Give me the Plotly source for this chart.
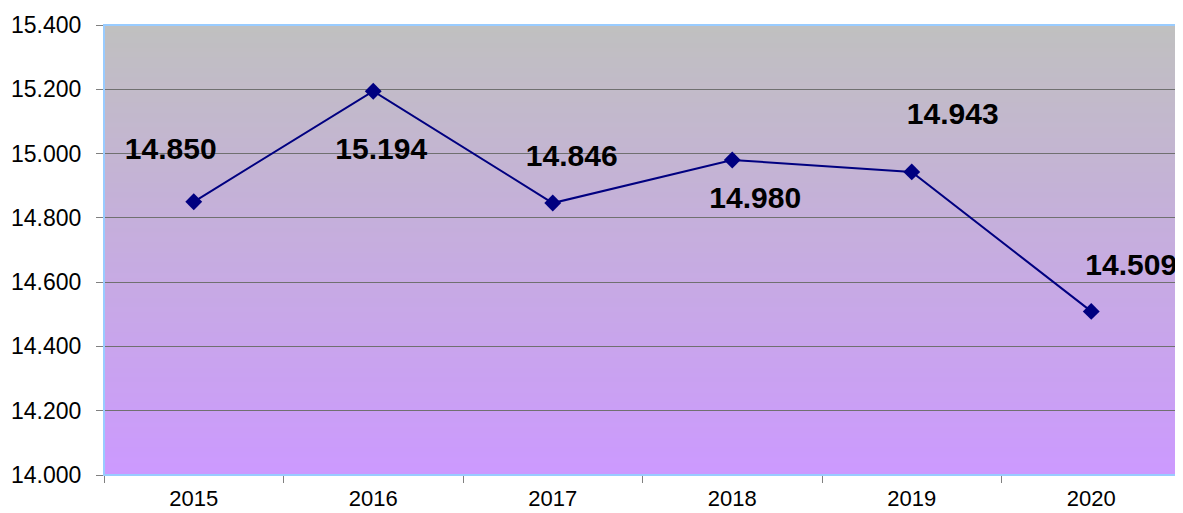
import plotly.graph_objects as go

years = ["2015", "2016", "2017", "2018", "2019", "2020"]
values = [14.850, 15.194, 14.846, 14.980, 14.943, 14.509]
value_labels = ["14.850", "15.194", "14.846", "14.980", "14.943", "14.509"]
# label offsets from each point, in pixels (right, up)
label_shifts = [(-23, 50), (8, -60), (19, 45), (23, -40), (41, 55), (40, 44)]
y_ticks = [14.0, 14.2, 14.4, 14.6, 14.8, 15.0, 15.2, 15.4]

W, H = 1175, 505
ML, MR, MT, MB = 96, 2, 17, 38
YMIN, YMAX = 14.0, 15.4
px_per_cat = (W - ML - MR) / len(years)
px_per_unit = (H - MT - MB) / (YMAX - YMIN)

fig = go.Figure()
fig.add_trace(go.Scatter(
    x=years, y=values, mode="lines+markers",
    line=dict(color="#000080", width=2),
    marker=dict(symbol="diamond", size=13, color="#000080"),
    hoverinfo="skip", showlegend=False, cliponaxis=False,
))

# value labels on an overlaid numeric x axis (same scale as the category axis)
lx = [i + dx / px_per_cat for i, (dx, dy) in enumerate(label_shifts)]
ly = [v + dy / px_per_unit for v, (dx, dy) in zip(values, label_shifts)]
fig.add_trace(go.Scatter(
    x=lx, y=ly, xaxis="x2", mode="text", text=value_labels,
    textposition="middle center",
    textfont=dict(family="Liberation Sans, Arial", size=30, color="black", weight="bold"),
    hoverinfo="skip", showlegend=False, cliponaxis=False,
))

# gradient background via overlapping stacked bands
n = 90
top = (192, 192, 192)
bot = (204, 153, 255)
for i in range(n):
    t = (i + 0.5) / n
    c = tuple(round(bot[k] + (top[k] - bot[k]) * t) for k in range(3))
    fig.add_shape(type="rect", xref="x domain", yref="y domain",
                  x0=0, x1=1, y0=max(0, (i - 0.5) / n), y1=(i + 1) / n,
                  fillcolor="rgb(%d,%d,%d)" % c, line=dict(width=0), layer="below")
fig.add_shape(type="rect", xref="x domain", yref="y domain", x0=0, x1=1, y0=0, y1=1,
              line=dict(color="#99ccff", width=2), layer="above")

fig.update_layout(
    width=W, height=H,
    margin=dict(l=ML, r=MR, t=MT, b=MB),
    paper_bgcolor="white", plot_bgcolor="rgba(0,0,0,0)",
    font=dict(family="Liberation Sans, Arial", size=22, color="black"),
    xaxis=dict(type="category", showgrid=False, ticks="outside", tickson="boundaries",
               ticklen=7, tickcolor="#808080", showline=True, linecolor="black", linewidth=1,
               tickfont=dict(size=22), ticklabelstandoff=4, range=[-0.5, 5.5],
               automargin=False, fixedrange=True),
    xaxis2=dict(overlaying="x", range=[-0.5, 5.5], visible=False, fixedrange=True),
    yaxis=dict(range=[YMIN, YMAX], tickvals=y_ticks, tickformat=".3f",
               showgrid=True, gridcolor="#707070", gridwidth=1, zeroline=False,
               ticks="outside", ticklen=7, tickcolor="#808080",
               showline=True, linecolor="black", linewidth=1,
               tickfont=dict(size=23), ticklabelstandoff=10,
               automargin=False, fixedrange=True),
)

fig.write_html("out.html")
